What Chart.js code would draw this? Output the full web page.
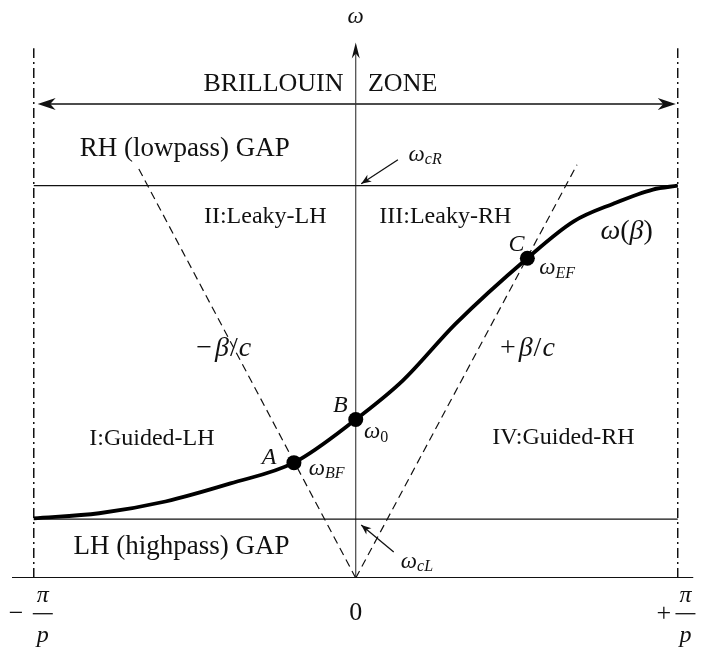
<!DOCTYPE html>
<html>
<head>
<meta charset="utf-8">
<script src="https://cdn.jsdelivr.net/npm/chart.js@4.4.0/dist/chart.umd.min.js"></script>
<style>
html, body { margin: 0; padding: 0; background: #fff; overflow: hidden; }
#wrap { width: 701px; height: 649px; position: relative; }
#dispersion { display: block; }
</style>
</head>
<body>
<div id="wrap"><canvas id="dispersion" width="701" height="649"></canvas></div>
<script>
// beta in units of pi/p, omega in units of omega_cR
const curveBeta  = [-1.0, -0.797, -0.591, -0.389, -0.192, 0.0, 0.146, 0.309, 0.533, 0.677, 0.800, 0.923, 1.0];
const curveOmega = [0.152, 0.165, 0.195, 0.241, 0.294, 0.404, 0.503, 0.647, 0.815, 0.909, 0.954, 0.990, 1.0];

// marked points A, B, C
const pointNames = ['A', 'B', 'C'];
const pointBeta  = [-0.192, 0.0, 0.533];
const pointOmega = [0.294, 0.404, 0.815];

// light lines -beta/c and +beta/c (top ends, both start at the origin)
const lightBeta  = [-0.674, 0.687];
const lightOmega = [1.043, 1.053];

// cutoffs
const omegaCL = 0.15;
const omegaCR = 1.0;

// zone edges / axes
const zoneEdges = [-1, 1];
const zoneTop = 1.35;
const zoneArrowOmega = 1.208;
const zoneArrowEnds = [-0.988, 0.994];
const omegaAxisTop = 1.365;
const betaRange = [-1.0676, 1.049];
const omegaRange = [0, 1.454];

const SERIF = '"Liberation Serif", "Times New Roman", serif';

function seg(b1, w1, b2, w2) {
    return [{x: b1, y: w1}, {x: b2, y: w2}];
}

function lineSet(data, opts) {
    return Object.assign({
        type: 'line',
        data: data,
        borderColor: '#111',
        borderWidth: 1.4,
        pointRadius: 0,
        fill: false,
        tension: 0,
        order: 5
    }, opts || {});
}

// draw a list of text runs (different fonts / offsets) in one go
function drawRuns(ctx, runs, x, y, align) {
    let total = 0;
    runs.forEach(r => { ctx.font = r.f; total += ctx.measureText(r.t).width + (r.gap || 0); });
    let cx = x;
    if (align === 'center') cx = x - total / 2;
    if (align === 'right') cx = x - total;
    ctx.textAlign = 'left';
    ctx.textBaseline = 'middle';
    runs.forEach(r => {
        ctx.font = r.f;
        ctx.fillText(r.t, cx, y + (r.dy || 0));
        cx += ctx.measureText(r.t).width + (r.gap || 0);
    });
}

function arrowHead(ctx, x1, y1, x2, y2, len, wid) {
    const a = Math.atan2(y2 - y1, x2 - x1);
    ctx.beginPath();
    ctx.moveTo(x2, y2);
    ctx.lineTo(x2 - len * Math.cos(a) + wid * Math.sin(a), y2 - len * Math.sin(a) - wid * Math.cos(a));
    ctx.lineTo(x2 - len * 0.7 * Math.cos(a), y2 - len * 0.7 * Math.sin(a));
    ctx.lineTo(x2 - len * Math.cos(a) - wid * Math.sin(a), y2 - len * Math.sin(a) + wid * Math.cos(a));
    ctx.closePath();
    ctx.fill();
}

const overlay = {
    id: 'overlay',
    afterDatasetsDraw(chart) {
        const ctx = chart.ctx;
        const px = v => chart.scales.x.getPixelForValue(v);
        const py = v => chart.scales.y.getPixelForValue(v);
        ctx.save();
        ctx.fillStyle = '#111';
        ctx.strokeStyle = '#111';

        // arrow heads: omega axis, brillouin zone
        arrowHead(ctx, px(0), py(0), px(0), py(omegaAxisTop), 16, 4);
        arrowHead(ctx, px(0), py(zoneArrowOmega), px(zoneArrowEnds[0]), py(zoneArrowOmega), 18, 6);
        arrowHead(ctx, px(0), py(zoneArrowOmega), px(zoneArrowEnds[1]), py(zoneArrowOmega), 18, 6);

        // small pointer arrows for the cutoffs
        const pointers = [
            [0.131, 1.066, 0.017, 1.005],
            [0.118, 0.066, 0.017, 0.135]
        ];
        ctx.lineWidth = 1.3;
        pointers.forEach(p => {
            ctx.beginPath();
            ctx.moveTo(px(p[0]), py(p[1]));
            ctx.lineTo(px(p[2]), py(p[3]));
            ctx.stroke();
            arrowHead(ctx, px(p[0]), py(p[1]), px(p[2]), py(p[3]), 10, 4);
        });

        const R27 = '27px ' + SERIF;
        const R24 = '24px ' + SERIF;
        const R26 = '26px ' + SERIF;
        const R28 = '28px ' + SERIF;
        const I28 = 'italic 28px ' + SERIF;
        const I24 = 'italic 24px ' + SERIF;
        const I22 = 'italic 23px ' + SERIF;
        const I15 = 'italic 16px ' + SERIF;

        const labels = [
            {b: 0, w: 1.43, a: 'center', runs: [{t: 'ω', f: I22}]},
            {b: -0.038, w: 1.259, a: 'right', runs: [{t: 'BRILLOUIN', f: R26}]},
            {b: 0.038, w: 1.259, a: 'left', runs: [{t: 'ZONE', f: R26}]},
            {b: -0.531, w: 1.094, a: 'center', runs: [{t: 'RH (lowpass) GAP', f: R27}]},
            {b: -0.541, w: 0.079, a: 'center', runs: [{t: 'LH (highpass) GAP', f: R27}]},
            {b: -0.633, w: 0.355, a: 'center', runs: [{t: 'I:Guided-LH', f: R24}]},
            {b: 0.645, w: 0.358, a: 'center', runs: [{t: 'IV:Guided-RH', f: R24}]},
            {b: -0.281, w: 0.921, a: 'center', runs: [{t: 'II:Leaky-LH', f: R24}]},
            {b: 0.278, w: 0.921, a: 'center', runs: [{t: 'III:Leaky-RH', f: R24}]},
            {b: -0.41, w: 0.584, a: 'center', runs: [{t: '−', f: R28, gap: 3}, {t: 'β', f: I28, gap: 1}, {t: '/', f: R28, gap: 1}, {t: 'c', f: I28}]},
            {b: 0.533, w: 0.584, a: 'center', runs: [{t: '+', f: R28, gap: 3}, {t: 'β', f: I28, gap: 1}, {t: '/', f: R28, gap: 1}, {t: 'c', f: I28}]},
            {b: 0.164, w: 1.079, a: 'left', runs: [{t: 'ω', f: I22}, {t: 'cR', f: I15, dy: 5}]},
            {b: 0.140, w: 0.041, a: 'left', runs: [{t: 'ω', f: I22}, {t: 'cL', f: I15, dy: 5}]},
            {b: -0.146, w: 0.279, a: 'left', runs: [{t: 'ω', f: I22}, {t: 'BF', f: I15, dy: 5}]},
            {b: 0.026, w: 0.371, a: 'left', runs: [{t: 'ω', f: I22}, {t: '0', f: '16px ' + SERIF, dy: 5}]},
            {b: 0.570, w: 0.789, a: 'left', runs: [{t: 'ω', f: I22}, {t: 'EF', f: I15, dy: 5}]},
            {b: 0.760, w: 0.883, a: 'left', runs: [{t: 'ω', f: I28}, {t: '(', f: R28}, {t: 'β', f: I28}, {t: ')', f: R28}]},
            {b: 0, w: -0.089, a: 'center', runs: [{t: '0', f: R26}]}
        ];
        labels.forEach(l => drawRuns(ctx, l.runs, px(l.b), py(l.w), l.a));

        // point names
        const nameOffsets = [[-0.077, 0.013], [-0.048, 0.035], [-0.034, 0.035]];
        pointNames.forEach((n, i) => {
            drawRuns(ctx, [{t: n, f: I24}], px(pointBeta[i] + nameOffsets[i][0]), py(pointOmega[i] + nameOffsets[i][1]), 'center');
        });

        // -pi/p and +pi/p as fractions
        const fracs = [{b: -0.972, sign: '−', sb: -1.055}, {b: 1.024, sign: '+', sb: 0.957}];
        fracs.forEach(f => {
            const cx = px(f.b), cy = py(-0.091);
            ctx.lineWidth = 1.3;
            ctx.beginPath();
            ctx.moveTo(cx - 10, cy);
            ctx.lineTo(cx + 10, cy);
            ctx.stroke();
            drawRuns(ctx, [{t: 'π', f: I24}], cx, cy - 18, 'center');
            drawRuns(ctx, [{t: 'p', f: I24}], cx, cy + 22, 'center');
            drawRuns(ctx, [{t: f.sign, f: R26}], px(f.sb), cy, 'center');
        });
        ctx.restore();
    }
};

const datasets = [
    // dispersion curve
    lineSet(curveBeta.map((b, i) => ({x: b, y: curveOmega[i]})), {
        borderWidth: 3.8, cubicInterpolationMode: 'monotone', order: 1, borderColor: '#000'
    }),
    // A, B, C
    {
        type: 'scatter',
        data: pointBeta.map((b, i) => ({x: b, y: pointOmega[i]})),
        pointRadius: 7.5,
        pointBackgroundColor: '#000',
        pointBorderWidth: 0,
        order: 0
    },
    // light lines
    lineSet(seg(0, 0, lightBeta[0], lightOmega[0]), {borderDash: [8, 5], borderWidth: 1.2}),
    lineSet(seg(0, 0, lightBeta[1], lightOmega[1]), {borderDash: [8, 5], borderWidth: 1.2}),
    // cutoff lines
    lineSet(seg(zoneEdges[0], omegaCR, zoneEdges[1], omegaCR), {borderWidth: 1.4}),
    lineSet(seg(zoneEdges[0], omegaCL, zoneEdges[1], omegaCL), {borderWidth: 1.4}),
    // beta axis and omega axis
    lineSet(seg(betaRange[0], 0, betaRange[1], 0), {borderWidth: 2}),
    lineSet(seg(0, 0, 0, omegaAxisTop - 0.02), {borderWidth: 1.1, borderColor: '#333'}),
    // zone edges
    lineSet(seg(zoneEdges[0], 0, zoneEdges[0], zoneTop), {borderDash: [10, 4, 2, 4], borderWidth: 1.5}),
    lineSet(seg(zoneEdges[1], 0, zoneEdges[1], zoneTop), {borderDash: [10, 4, 2, 4], borderWidth: 1.5}),
    // brillouin zone arrow
    lineSet(seg(zoneArrowEnds[0] + 0.02, zoneArrowOmega, zoneArrowEnds[1] - 0.02, zoneArrowOmega), {borderWidth: 1.5})
];

new Chart(document.getElementById('dispersion'), {
    type: 'line',
    data: {datasets: datasets},
    options: {
        responsive: false,
        animation: false,
        devicePixelRatio: 1,
        layout: {padding: {left: 12, right: 0, top: 5, bottom: 71}},
        scales: {
            x: {type: 'linear', min: betaRange[0], max: betaRange[1], display: false},
            y: {type: 'linear', min: omegaRange[0], max: omegaRange[1], display: false}
        },
        plugins: {
            legend: {display: false},
            tooltip: {enabled: false}
        }
    },
    plugins: [overlay]
});
</script>
</body>
</html>
